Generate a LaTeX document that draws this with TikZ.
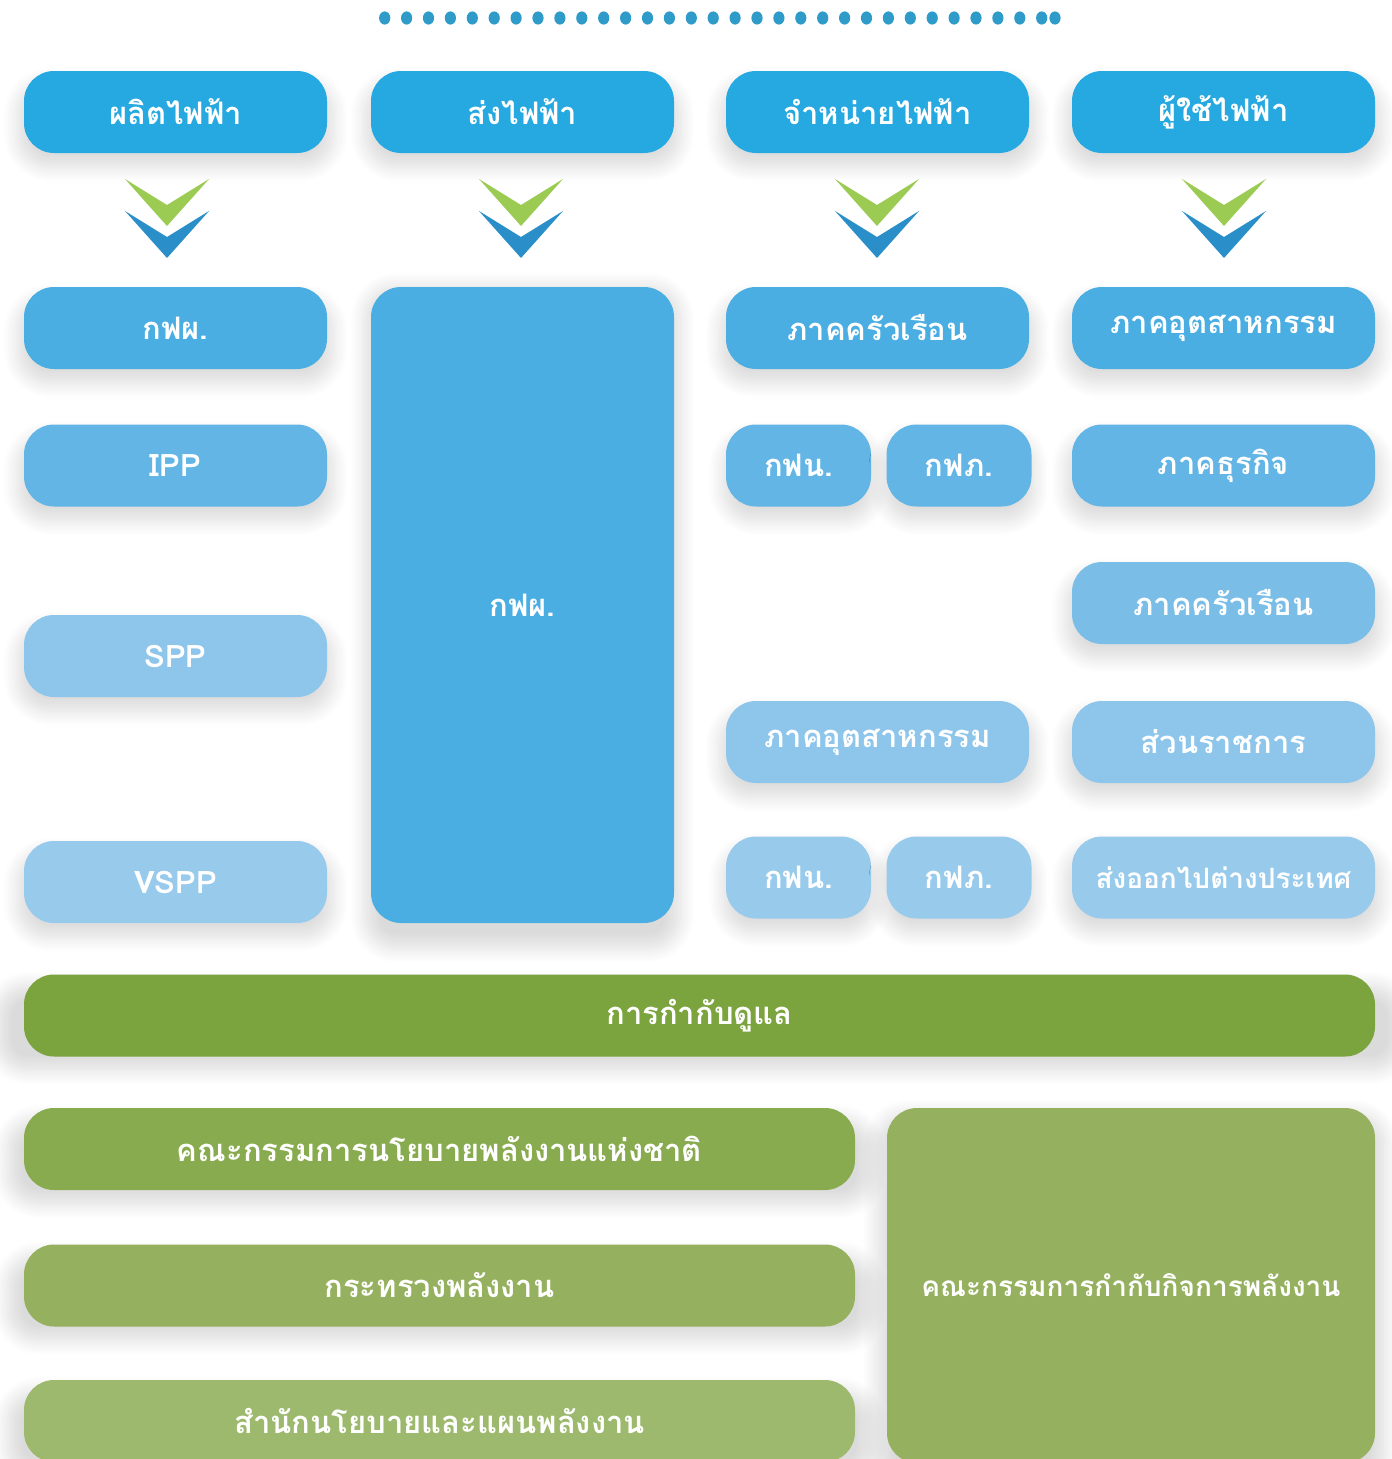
\documentclass[tikz,border=0pt]{standalone}
\usepackage{fontspec}
\newfontfamily\thai[Script=Thai]{Loma}
\usetikzlibrary{shadows.blur}
\definecolor{dotc}{HTML}{2E9BC9}
\definecolor{hdr}{HTML}{25A9E0}
\definecolor{bA}{HTML}{4BAEE2}
\definecolor{bB}{HTML}{62B5E5}
\definecolor{bC}{HTML}{7ABEE8}
\definecolor{bD}{HTML}{8DC5EB}
\definecolor{bE}{HTML}{98CAEC}
\definecolor{chG}{HTML}{9BCB52}
\definecolor{chB}{HTML}{2A8FC9}
\definecolor{gA}{HTML}{7BA43E}
\definecolor{gB}{HTML}{89AB4F}
\definecolor{gC}{HTML}{95B15F}
\definecolor{gD}{HTML}{9DB96E}
\tikzset{
  box/.style={rounded corners=30pt, minimum height=82pt, text=white, inner sep=0pt,
    font=\thai\bfseries\fontsize{31}{33}\selectfont,
    blur shadow={shadow xshift=0pt, shadow yshift=-12pt, shadow scale=1.04,
      shadow blur radius=14pt, shadow blur steps=12, shadow opacity=14}},
  wA/.style={minimum width=303pt},
  wS/.style={minimum width=145pt},
  wL/.style={minimum width=831pt},
  small/.style={font=\thai\bfseries\fontsize{28}{30}\selectfont},
}
\begin{document}
\begin{tikzpicture}[x=1pt,y=-1pt]
\useasboundingbox (0,0) rectangle (1392,1459);
\clip (0,0) rectangle (1392,1459);
% dotted rule
\foreach \i in {0,...,30} \fill[dotc] (384.7+21.9*\i,18) ellipse (5.6 and 6.6);
\fill[dotc] (1055,18) ellipse (5.6 and 6.6);
% headers
\node[box,wA,fill=hdr] (h1) at (175.5,112) {ผลิตไฟฟ้า};
\node[box,wA,fill=hdr] (h2) at (522.5,112) {ส่งไฟฟ้า};
\node[box,wA,fill=hdr] (h3) at (877.5,112) {จำหน่ายไฟฟ้า};
\node[box,wA,fill=hdr] (h4) at (1223.5,112) {ผู้ใช้ไฟฟ้า};
% chevrons
\foreach \cx in {167,521,877,1224}{
  \fill[chG] (\cx-42,179) -- (\cx,205) -- (\cx+42,179) -- (\cx,226) -- cycle;
  \fill[chB] (\cx-42,211) -- (\cx,237) -- (\cx+42,211) -- (\cx,258) -- cycle;
}
% column 1
\node[box,wA,fill=bA] (p1) at (175.5,328) {กฟผ.};
\node[box,wA,fill=bB] (p2) at (175.5,465.5) {IPP};
\node[box,wA,fill=bD] (p3) at (175.5,656) {SPP};
\node[box,wA,fill=bE] (p4) at (175.5,882) {VSPP};
% column 2
\node[box,wA,fill=bA,minimum height=636pt] (t1) at (522.5,605) {กฟผ.};
% column 3
\node[box,wA,fill=bA] (d1) at (877.5,328) {ภาคครัวเรือน};
\node[box,wS,fill=bB] (d2) at (798.5,465.5) {กฟน.};
\node[box,wS,fill=bB] (d3) at (959,465.5) {กฟภ.};
\node[box,wA,fill=bD] (d4) at (877.5,742) {ภาคอุตสาหกรรม};
\node[box,wS,fill=bE] (d5) at (798.5,877.5) {กฟน.};
\node[box,wS,fill=bE] (d6) at (959,877.5) {กฟภ.};
% column 4
\node[box,wA,fill=bA] (u1) at (1223.5,328) {ภาคอุตสาหกรรม};
\node[box,wA,fill=bB] (u2) at (1223.5,465.5) {ภาคธุรกิจ};
\node[box,wA,fill=bC] (u3) at (1223.5,603) {ภาคครัวเรือน};
\node[box,wA,fill=bD] (u4) at (1223.5,742) {ส่วนราชการ};
\node[box,wA,fill=bE,small] (u5) at (1223.5,877.5) {ส่งออกไปต่างประเทศ};
% regulation
\node[box,fill=gA,minimum width=1351pt] (r0) at (699.5,1015.5) {การกำกับดูแล};
\node[box,wL,fill=gB] (r1) at (439.5,1149) {คณะกรรมการนโยบายพลังงานแห่งชาติ};
\node[box,wL,fill=gC] (r2) at (439.5,1285.5) {กระทรวงพลังงาน};
\node[box,wL,fill=gD] (r3) at (439.5,1421) {สำนักนโยบายและแผนพลังงาน};
\node[box,fill=gC,minimum width=488pt,minimum height=355pt,small] (r4) at (1131,1285.5) {คณะกรรมการกำกับกิจการพลังงาน};
\end{tikzpicture}
\end{document}
